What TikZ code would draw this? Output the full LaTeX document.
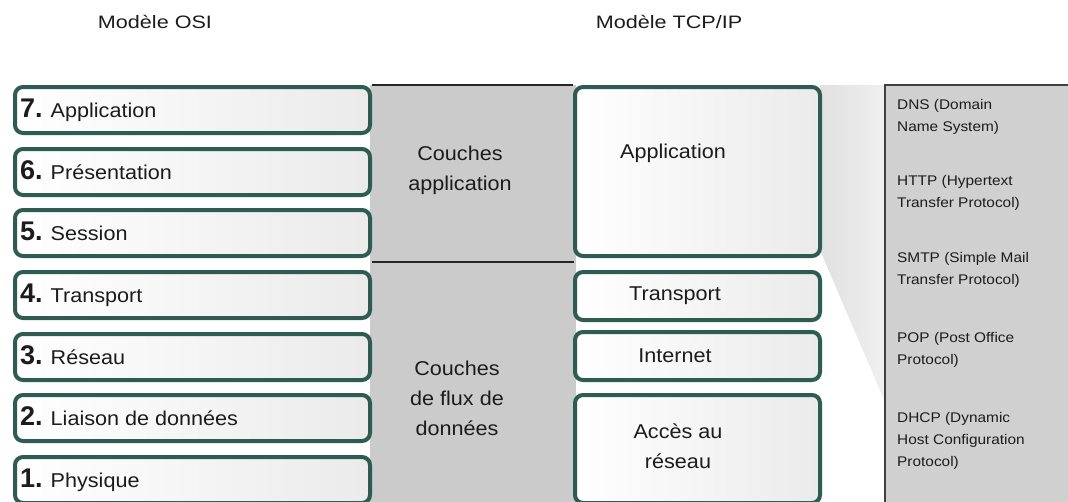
\documentclass[tikz,border=0pt]{standalone}
\usepackage{fontspec}
\setmainfont{Liberation Sans}
\newfontfamily\titlefont{Liberation Sans}[FakeStretch=1.2]
\newfontfamily\boxfont{Liberation Sans}[FakeStretch=1.08]
\newfontfamily\numfont{Liberation Sans}
\newfontfamily\smallfont{Liberation Sans}[FakeStretch=1.1]
\definecolor{bordergreen}{RGB}{47,92,80}
\definecolor{midgray}{RGB}{203,203,203}
\definecolor{rightgray}{RGB}{208,208,208}
\definecolor{txt}{RGB}{28,28,28}
\newcommand{\lnum}[1]{{\numfont\bfseries\fontsize{27}{27}\selectfont #1.}}
\tikzset{
  layerbox/.style={draw=bordergreen, line width=4pt, rounded corners=8pt,
    left color=white, right color=gray!16, rectangle, inner sep=0pt},
  osibox/.style={layerbox, minimum width=355pt, minimum height=46pt},
  tcpbox/.style={layerbox, minimum width=245pt},
  osilabel/.style={anchor=base west, inner sep=0pt, text=txt,
    font=\boxfont\fontsize{20}{30}\selectfont},
  biglabel/.style={anchor=base, inner sep=0pt, align=center, text=txt,
    font=\boxfont\fontsize{20}{30}\selectfont},
  titlelabel/.style={anchor=base, inner sep=0pt, text=txt,
    font=\titlefont\fontsize{18}{22}\selectfont},
  protolabel/.style={anchor=base west, inner sep=0pt, align=left, text=txt,
    font=\smallfont\fontsize{14}{22}\selectfont},
  sepline/.style={draw=black!85, line width=1.2pt}
}
\begin{document}
\begin{tikzpicture}[x=1pt, y=-1pt]
\useasboundingbox (0,0) rectangle (1068,501);
\clip (0,0) rectangle (1068,501);
\fill[white] (0,0) rectangle (1068,501);
% middle gray band
\fill[midgray] (370,85) rectangle (576,505);
% wedge between TCP application box and protocol list
\shade[left color=gray!24, middle color=gray!5, right color=gray!12] (820,85) -- (885,85) -- (885,402) -- (820,250) -- cycle;
% protocol list panel
\fill[rightgray] (885,85) rectangle (1072,505);
\draw[draw=black!75, line width=1.4pt] (1072,85) -- (885,85) -- (885,505);

% titles
\node[titlelabel] (tosi) at (155,28) {Modèle OSI};
\node[titlelabel] (ttcp) at (669,28) {Modèle TCP/IP};

% OSI layers
\node[osibox] (o7) at (192.5,110) {};
\node[osibox] (o6) at (192.5,172) {};
\node[osibox] (o5) at (192.5,233) {};
\node[osibox] (o4) at (192.5,295) {};
\node[osibox] (o3) at (192.5,357) {};
\node[osibox] (o2) at (192.5,418) {};
\node[osibox] (o1) at (192.5,480) {};
\node[osilabel] (l7) at (20,117) {\lnum{7} Application};
\node[osilabel] (l6) at (20,179) {\lnum{6} Présentation};
\node[osilabel] (l5) at (20,240) {\lnum{5} Session};
\node[osilabel] (l4) at (20,302) {\lnum{4} Transport};
\node[osilabel] (l3) at (20,364) {\lnum{3} Réseau};
\node[osilabel] (l2) at (20,425) {\lnum{2} Liaison de données};
\node[osilabel] (l1) at (20,487) {\lnum{1} Physique};

% TCP/IP layers
\node[tcpbox, minimum height=169pt] (tapp) at (697.5,171.5) {};
\node[tcpbox, minimum height=48pt] (ttr) at (697.5,296) {};
\node[tcpbox, minimum height=48pt] (tint) at (697.5,356) {};
\node[tcpbox, minimum height=108pt] (tacc) at (697.5,449) {};
\node[biglabel] (lapp) at (673,158) {Application};
\node[biglabel] (ltr) at (675,300) {Transport};
\node[biglabel] (lint) at (675,362) {Internet};
\node[biglabel] (lacc) at (678,468) {Accès au\\réseau};

% separator lines of the middle band
\coordinate (sepL) at (372,262);
\coordinate (sepR) at (574,262);
\draw[sepline] (o7.north east) -- (tapp.north west);
\draw[sepline] (sepL) -- (sepR);

% middle band labels
\node[biglabel] (capp) at (460,190) {Couches\\application};
\node[biglabel] (cflux) at (457,435) {Couches\\de flux de\\données};

% protocols
\node[protolabel] (pdns) at (897,131) {DNS (Domain\\Name System)};
\node[protolabel] (phttp) at (897,207) {HTTP (Hypertext\\Transfer Protocol)};
\node[protolabel] (psmtp) at (897,284) {SMTP (Simple Mail\\Transfer Protocol)};
\node[protolabel] (ppop) at (897,364) {POP (Post Office\\Protocol)};
\node[protolabel] (pdhcp) at (897,466) {DHCP (Dynamic\\Host Configuration\\Protocol)};
\end{tikzpicture}
\end{document}
